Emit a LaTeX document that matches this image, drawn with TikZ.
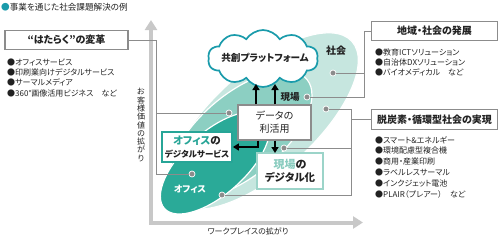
\documentclass[tikz,border=0pt]{standalone}
\usepackage{fontspec}
\setmainfont{Noto Sans CJK JP}[RawFeature=+palt]
\usetikzlibrary{arrows.meta,shapes.symbols,calc}
\definecolor{lightteal}{HTML}{C6E6DF}
\definecolor{medteal}{HTML}{8CCFC2}
\definecolor{darkteal}{HTML}{2AAA98}
\definecolor{cloudteal}{HTML}{1A9BAB}
\definecolor{officeteal}{HTML}{27A597}
\definecolor{genbateal}{HTML}{8ACCBF}
\definecolor{linegray}{HTML}{8C8C8C}
\definecolor{axisgray}{HTML}{C8C8C8}
\definecolor{txt}{HTML}{222222}
\begin{document}
\begin{tikzpicture}[x=1pt,y=-1pt,
  conn/.style={draw=linegray, line width=0.9pt},
  dotc/.style={circle, fill=linegray, draw=white, line width=0.7pt, inner sep=0pt, minimum size=6pt},
  catbox/.style={draw=linegray, line width=1.4pt, fill=white, inner sep=0pt, text=txt,
    font=\bfseries\fontsize{10}{12}\selectfont},
  item/.style={anchor=west, inner sep=0pt, text=txt, font=\fontsize{8}{10}\selectfont},
  arr/.style={line width=1.5pt, -{Triangle[length=6pt,width=7pt]}},
  ell/.style={draw=white, line width=1.2pt}
]
\useasboundingbox (0,0) rectangle (499,239);

% title
\node[anchor=west, inner sep=0pt, text=txt, font=\fontsize{8.6}{10}\selectfont] (title) at (1,7)
  {{\color{cloudteal}●}事業を通じた社会課題解決の例};

% axes
\coordinate (ytip) at (151,20);
\coordinate (corner) at (151,222.5);
\coordinate (xtip) at (363,222.5);
\draw[axisgray, line width=4pt, {Triangle[length=10pt,width=12pt]}-{Triangle[length=10pt,width=12pt]}]
  (ytip) -- (corner) -- (xtip);
\node[inner sep=0pt, text=txt, font=\fontsize{8}{10}\selectfont] (xlab) at (248,231) {ワークプレイスの拡がり};
\node[inner sep=0pt, text=txt, align=center, font=\fontsize{8}{8.3}\selectfont] (ylab) at (141,125)
  {お\\客\\様\\価\\値\\の\\拡\\が\\り};

% ellipses
\fill[lightteal, ell, rotate around={42:(263.5,121)}] (263.5,121) ellipse [x radius=119pt, y radius=51pt];
\fill[medteal, ell, rotate around={40:(241,134.6)}] (241,134.6) ellipse [x radius=86pt, y radius=41pt];
\fill[darkteal, ell, rotate around={42:(215,163)}] (215,163) ellipse [x radius=68pt, y radius=31pt];

% labels on ellipses
\node[inner sep=0pt, text=txt, font=\bfseries\fontsize{10}{12}\selectfont] (shakai) at (336,51) {社会};
\node[inner sep=0pt, text=txt, font=\bfseries\fontsize{9.5}{12}\selectfont] (genbalab) at (290,97) {現場};
\node[inner sep=0pt, text=white, font=\bfseries\fontsize{9}{12}\selectfont] (officelab) at (190,189) {オフィス};

% dots
\node[dotc] (d1) at (229,113) {};
\node[dotc] (d2) at (192,174) {};
\node[dotc] (d3) at (333,73) {};
\node[dotc] (d4) at (307,97) {};
\node[dotc] (d5) at (326,109) {};
\node[dotc] (d6) at (284,148) {};
\node[dotc] (d7) at (222,195) {};

% category boxes
\node[catbox, minimum width=123pt, minimum height=19pt] (hbox) at (66.5,40) {“はたらく”の変革};
\node[catbox, minimum width=126pt, minimum height=19pt] (cbox) at (434.5,31) {地域・社会の発展};
\node[catbox, minimum width=126pt, minimum height=20pt] (dbox) at (434.5,119.5) {脱炭素・循環型社会の実現};

% connectors
\coordinate (jL) at (156,40);
\draw[conn] (hbox.east) -- (jL) |- (d2);
\draw[conn] (jL |- d1) -- (d1);
\coordinate (jC) at (364,31);
\draw[conn] (cbox.west) -- (jC) |- (d4);
\draw[conn] (jC |- d3) -- (d3);
\coordinate (jD) at (351,109);
\draw[conn] (d5) -- (jD) |- (d7);
\draw[conn] (dbox.west) -- (jD |- dbox.west);
\draw[conn] (jD |- d6) -- (d6);

% lists
\foreach \t [count=\i] in {●オフィスサービス, ●印刷業向けデジタルサービス, ●サーマルメディア, ●360°画像活用ビジネス　など}
  \node[item] (la\i) at (7, {62+(\i-1)*10.4}) {\t};
\foreach \t [count=\i] in {●教育ICTソリューション, ●自治体DXソリューション, ●バイオメディカル　など}
  \node[item] (lb\i) at (375, {52+(\i-1)*10.3}) {\t};
\foreach \t [count=\i] in {●スマート\&エネルギー, ●環境配慮型複合機, ●商用・産業印刷, ●ラベルレスサーマル, ●インクジェット電池, ●PLAIR（プレアー）　など}
  \node[item] (lc\i) at (375, {140+(\i-1)*10.8}) {\t};

% cloud
\node[cloud, cloud puffs=10, cloud puff arc=115, cloud ignores aspect, draw=cloudteal, line width=1.7pt, fill=white,
  minimum width=110pt, minimum height=57pt, inner sep=0pt] (cloud) at (263,58.5) {};
\node[inner sep=0pt, text=txt, font=\bfseries\fontsize{9.6}{12}\selectfont] (cloudtxt) at (265,58) {共創プラットフォーム};

% data box
\node[draw=linegray, line width=1.4pt, fill=white, minimum width=73pt, minimum height=35pt, inner sep=0pt,
  align=center, text=txt, font=\fontsize{10}{13}\selectfont] (data) at (274.5,122.5) {データの\\利活用};

% office box
\node[draw=officeteal, line width=1.8pt, fill=white, minimum width=70pt, minimum height=30pt, inner sep=0pt,
  align=center, text=txt, font=\bfseries\fontsize{8.5}{13}\selectfont] (obox) at (197,147)
  {{\fontsize{10.5}{13}\selectfont\textcolor{officeteal}{オフィス}の}\\デジタルサービス};

% genba box
\node[draw=genbateal!85!white, line width=1.8pt, fill=white, minimum width=66pt, minimum height=36pt, inner sep=0pt,
  align=center, text=txt, font=\bfseries\fontsize{10.5}{13}\selectfont] (gbox) at (290,171)
  {{\fontsize{11}{13}\selectfont\textcolor{genbateal}{現場}の}\\デジタル化};

% arrows
\coordinate (u1) at (256,84);
\coordinate (u2) at (275,84);
\draw[arr] (data.north -| u1) -- (u1);
\draw[arr] (data.north -| u2) -- (u2);
\coordinate (dn) at (275,153);
\draw[arr] (data.south -| dn) -- (dn);
\coordinate (lf) at (258,140);
\draw[arr] (data.south -| lf) |- (obox.east);
\end{tikzpicture}
\end{document}
